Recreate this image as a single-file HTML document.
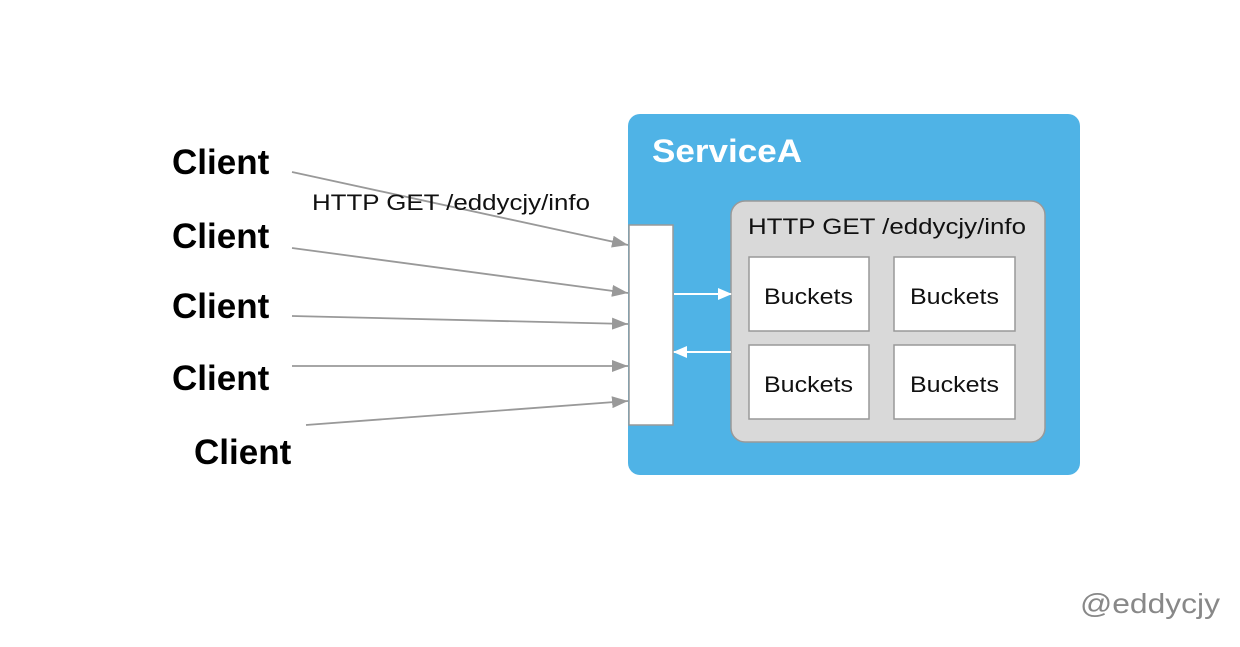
<!DOCTYPE html>
<html><head><style>body{margin:0;background:#fff}</style></head><body>
<svg width="1240" height="642" xmlns="http://www.w3.org/2000/svg" font-family="Liberation Sans, sans-serif">
<defs>
<marker id="w" viewBox="0 0 14 12" markerWidth="14" markerHeight="12" refX="13" refY="6" orient="auto" markerUnits="userSpaceOnUse"><path d="M0,0 L14,6 L0,12z" fill="#fff"/></marker>
<marker id="g2" viewBox="0 0 16 12" markerWidth="16" markerHeight="12" refX="16" refY="6" orient="auto" markerUnits="userSpaceOnUse"><path d="M0,0 L16,6 L0,12z" fill="#999"/></marker>
</defs>
<rect x="628" y="114" width="452" height="361" rx="12" fill="#4FB3E6"/>
<text x="652" y="162" font-size="32" fill="#fff" textLength="150" lengthAdjust="spacingAndGlyphs" font-weight="bold" stroke="none">ServiceA</text>
<rect x="629" y="225" width="44" height="200" fill="#fff" stroke="#999" stroke-width="1.5"/>
<rect x="731" y="201" width="314" height="241" rx="14" fill="#d9d9d9" stroke="#999" stroke-width="1.5"/>
<text x="748" y="234" font-size="22" fill="#111" textLength="278" lengthAdjust="spacingAndGlyphs">HTTP GET /eddycjy/info</text>
<g fill="#fff" stroke="#999" stroke-width="1.5">
<rect x="749" y="257" width="120" height="74"/><rect x="894" y="257" width="121" height="74"/>
<rect x="749" y="345" width="120" height="74"/><rect x="894" y="345" width="121" height="74"/>
</g>
<g font-size="22" fill="#111">
<text x="764" y="304" textLength="89" lengthAdjust="spacingAndGlyphs">Buckets</text><text x="910" y="304" textLength="89" lengthAdjust="spacingAndGlyphs">Buckets</text>
<text x="764" y="392" textLength="89" lengthAdjust="spacingAndGlyphs">Buckets</text><text x="910" y="392" textLength="89" lengthAdjust="spacingAndGlyphs">Buckets</text>
</g>
<line x1="674" y1="294" x2="731" y2="294" stroke="#fff" stroke-width="2" marker-end="url(#w)"/>
<line x1="731" y1="352" x2="674" y2="352" stroke="#fff" stroke-width="2" marker-end="url(#w)"/>
<g stroke="#999" stroke-width="1.8">
<line x1="292" y1="172" x2="628" y2="245" marker-end="url(#g2)"/>
<line x1="292" y1="248" x2="628" y2="293" marker-end="url(#g2)"/>
<line x1="292" y1="316" x2="628" y2="324" marker-end="url(#g2)"/>
<line x1="292" y1="366" x2="628" y2="366" marker-end="url(#g2)"/>
<line x1="306" y1="425" x2="628" y2="401" marker-end="url(#g2)"/>
</g>
<text x="312" y="210" font-size="22" fill="#111" textLength="278" lengthAdjust="spacingAndGlyphs">HTTP GET /eddycjy/info</text>
<g font-size="35" font-weight="bold" fill="#000">
<text x="172" y="174">Client</text><text x="172" y="248">Client</text>
<text x="172" y="318">Client</text><text x="172" y="390">Client</text>
<text x="194" y="464">Client</text>
</g>
<text x="1080" y="613" font-size="28" fill="#888" textLength="140" lengthAdjust="spacingAndGlyphs">@eddycjy</text>
</svg>
</body></html>
